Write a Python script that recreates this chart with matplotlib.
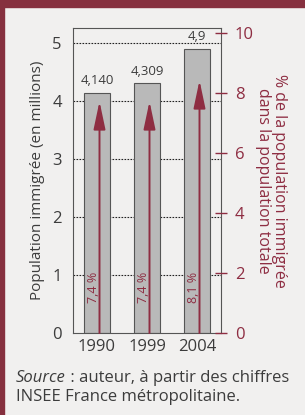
import numpy as np
import matplotlib
matplotlib.use('Agg')
from matplotlib import pyplot as plt
from matplotlib.patches import Rectangle
from matplotlib.transforms import offset_copy

plt.rcParams['font.family'] = ['Open Sans', 'DejaVu Sans']

# data
years = ['1990', '1999', '2004']
pop_millions = [4.140, 4.309, 4.9]
pop_labels = ['4,140', '4,309', '4,9']
pct_total = [7.4, 7.4, 8.1]
pct_labels = ['7,4 %', '7,4 %', '8,1 %']

maroon = '#8e2d42'
grey_txt = '#3c3c3c'
bg = '#f1f0ef'

fig = plt.figure(figsize=(3.05, 4.15), dpi=100, facecolor=bg)

# maroon frame on top and left
fig.patches.append(Rectangle((0, 1 - 7 / 415), 1, 7 / 415, transform=fig.transFigure,
                             color='#86303f', zorder=0))
fig.patches.append(Rectangle((0, 0), 4 / 305, 1, transform=fig.transFigure,
                             color='#86303f', zorder=0))

ax = fig.add_axes([73 / 305, 1 - 333 / 415, 148 / 305, 305 / 415])
ax.set_facecolor(bg)
x = np.arange(len(years))

ax.bar(x, pop_millions, width=0.52, color='#b9b9b9', edgecolor='#555555', linewidth=0.8, zorder=2)
for xi, v, lab in zip(x, pop_millions, pop_labels):
    ax.annotate(lab, (xi, v), xytext=(0, 4), textcoords='offset points',
                ha='center', va='bottom', fontsize=9.5, color=grey_txt)

ax.set_xlim(-0.48, 2.48)
ax.set_ylim(0, 5.26)
ax.set_yticks([0, 1, 2, 3, 4, 5])
ax.set_xticks(x)
ax.set_xticklabels(years)
ax.tick_params(axis='y', length=0, pad=8, labelsize=12, labelcolor=grey_txt)
ax.tick_params(axis='x', length=0, pad=4, labelsize=12, labelcolor=grey_txt)
for yv in [1, 2, 3, 4, 5]:
    ax.axhline(yv, color='#222222', linestyle=(0, (1.5, 1.2)), linewidth=0.8, zorder=1)
for s in ax.spines.values():
    s.set_color('#555555')
    s.set_linewidth(0.8)
ax.set_ylabel('Population immigrée (en millions)', fontsize=11, color=grey_txt, labelpad=5)

# right axis: percentage
ax2 = ax.twinx()
ax2.set_ylim(0, 10.17)
ax2.set_yticks([0, 2, 4, 6, 8, 10])
ax2.tick_params(axis='y', direction='inout', length=8, width=1, color=maroon,
                labelcolor=maroon, labelsize=12, pad=6)
for s in ax2.spines.values():
    s.set_visible(False)
ax2.set_ylabel('% de la population immigrée\ndans la population totale', rotation=-90,
               fontsize=11.5, color=maroon, labelpad=24, linespacing=1.0)

# arrow tips sit a little above the value, as in the original
tip = offset_copy(ax2.transData, fig=fig, y=7, units='points')
for xi, p, lab in zip(x, pct_total, pct_labels):
    ax2.annotate('', xy=(xi + 0.05, p), xycoords=tip, xytext=(xi + 0.05, 0),
                 textcoords=ax2.transData,
                 arrowprops=dict(arrowstyle='-|>,head_length=1.7,head_width=0.36',
                                 color=maroon, lw=1.4, shrinkA=0, shrinkB=0), zorder=3)
    ax.text(xi - 0.07, 0.52, lab, rotation=90, ha='center', va='bottom',
            fontsize=9, color=maroon, zorder=4)

# source
fig.canvas.draw()
t1 = fig.text(16 / 305, 1 - 378 / 415, 'Source', style='italic', fontsize=12,
              color=grey_txt, va='center')
bb = t1.get_window_extent(fig.canvas.get_renderer())
fig.text(bb.x1 / fig.bbox.width, 1 - 378 / 415, ' : auteur, à partir des chiffres',
         fontsize=12, color=grey_txt, va='center')
fig.text(16 / 305, 1 - 397 / 415, 'INSEE France métropolitaine.', fontsize=12,
         color=grey_txt, va='center')

fig.savefig('out.png', dpi=100, facecolor=bg)
